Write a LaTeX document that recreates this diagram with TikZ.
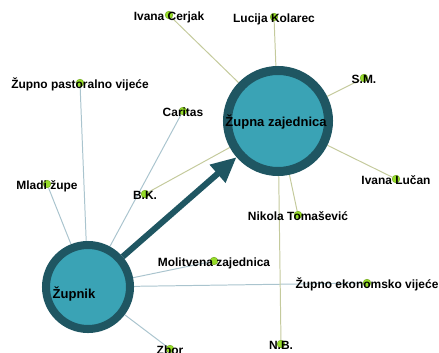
\documentclass[tikz,border=0pt]{standalone}
\usepackage{fontspec}
\setmainfont{Liberation Sans}
\usetikzlibrary{arrows.meta,backgrounds}
\definecolor{ring}{RGB}{31,86,98}
\definecolor{lagoon}{RGB}{58,163,181}
\definecolor{sprout}{RGB}{150,220,40}
\definecolor{mist}{RGB}{170,196,206}
\definecolor{sage}{RGB}{196,202,156}

\begin{document}
\begin{tikzpicture}[x=0.025cm,y=-0.025cm,
    big/.style={circle,fill=lagoon,draw=ring,inner sep=0pt},
    dot/.style={circle,fill=sprout,draw=sprout!75!black,line width=0.3pt,minimum size=5.5pt,inner sep=0pt},
    lbl/.style={font=\fontsize{8.5}{10}\selectfont\bfseries,anchor=base,inner sep=0pt},
    biglbl/.style={font=\fontsize{9.25}{11}\selectfont\bfseries,anchor=base,inner sep=0pt},
    tozupnik/.style={mist,line width=0.7pt},
    tozajednica/.style={sage,line width=0.7pt}]
    \useasboundingbox (0,0) rectangle (439,353);
    \clip (0,0) rectangle (439,353);

    % the two big nodes
    \node[big,line width=6.4pt,minimum size=2.525cm] (zajednica) at (278,121) {};
    \node[biglbl] (zajednica-txt) at (276,127) {Župna zajednica};
    \node[big,line width=5.7pt,minimum size=2.1cm] (zupnik) at (88,287) {};
    \node[biglbl] (zupnik-txt) at (74,298) {Župnik};

    % small nodes
    \foreach \n/\x/\y/\t in {
      cerjak/169/15/Ivana Cerjak,
      kolarec/274/17/Lucija Kolarec,
      sm/364/78/S.M.,
      pastoral/80/83/Župno pastoralno vijeće,
      caritas/183/111/Caritas,
      mladi/47/184/Mladi župe,
      bk/145/194/B.K.,
      lucan/396/179/Ivana Lučan,
      tomasevic/298/215/Nikola Tomašević,
      molitvena/214/261/Molitvena zajednica,
      ekonomsko/367/283/Župno ekonomsko vijeće,
      nb/281/344/N.B.,
      zbor/170/349/Zbor}
    {
      \node[dot] (\n) at (\x,\y) {};
      \node[lbl] (\n-txt) at (\x,\y+5.5) {\t};
    }

    % connectors behind the nodes
    \begin{scope}[on background layer]
      \foreach \a in {pastoral,mladi,caritas,molitvena,ekonomsko,zbor}
        \draw[tozupnik] (zupnik) -- (\a);
      \foreach \a in {cerjak,kolarec,sm,lucan,tomasevic,nb,bk}
        \draw[tozajednica] (zajednica) -- (\a);
    \end{scope}

    \draw[ring,line width=4.3pt,-{Triangle[length=18pt,width=16pt]}] (zupnik) -- (zajednica);
  \end{tikzpicture}
\end{document}
